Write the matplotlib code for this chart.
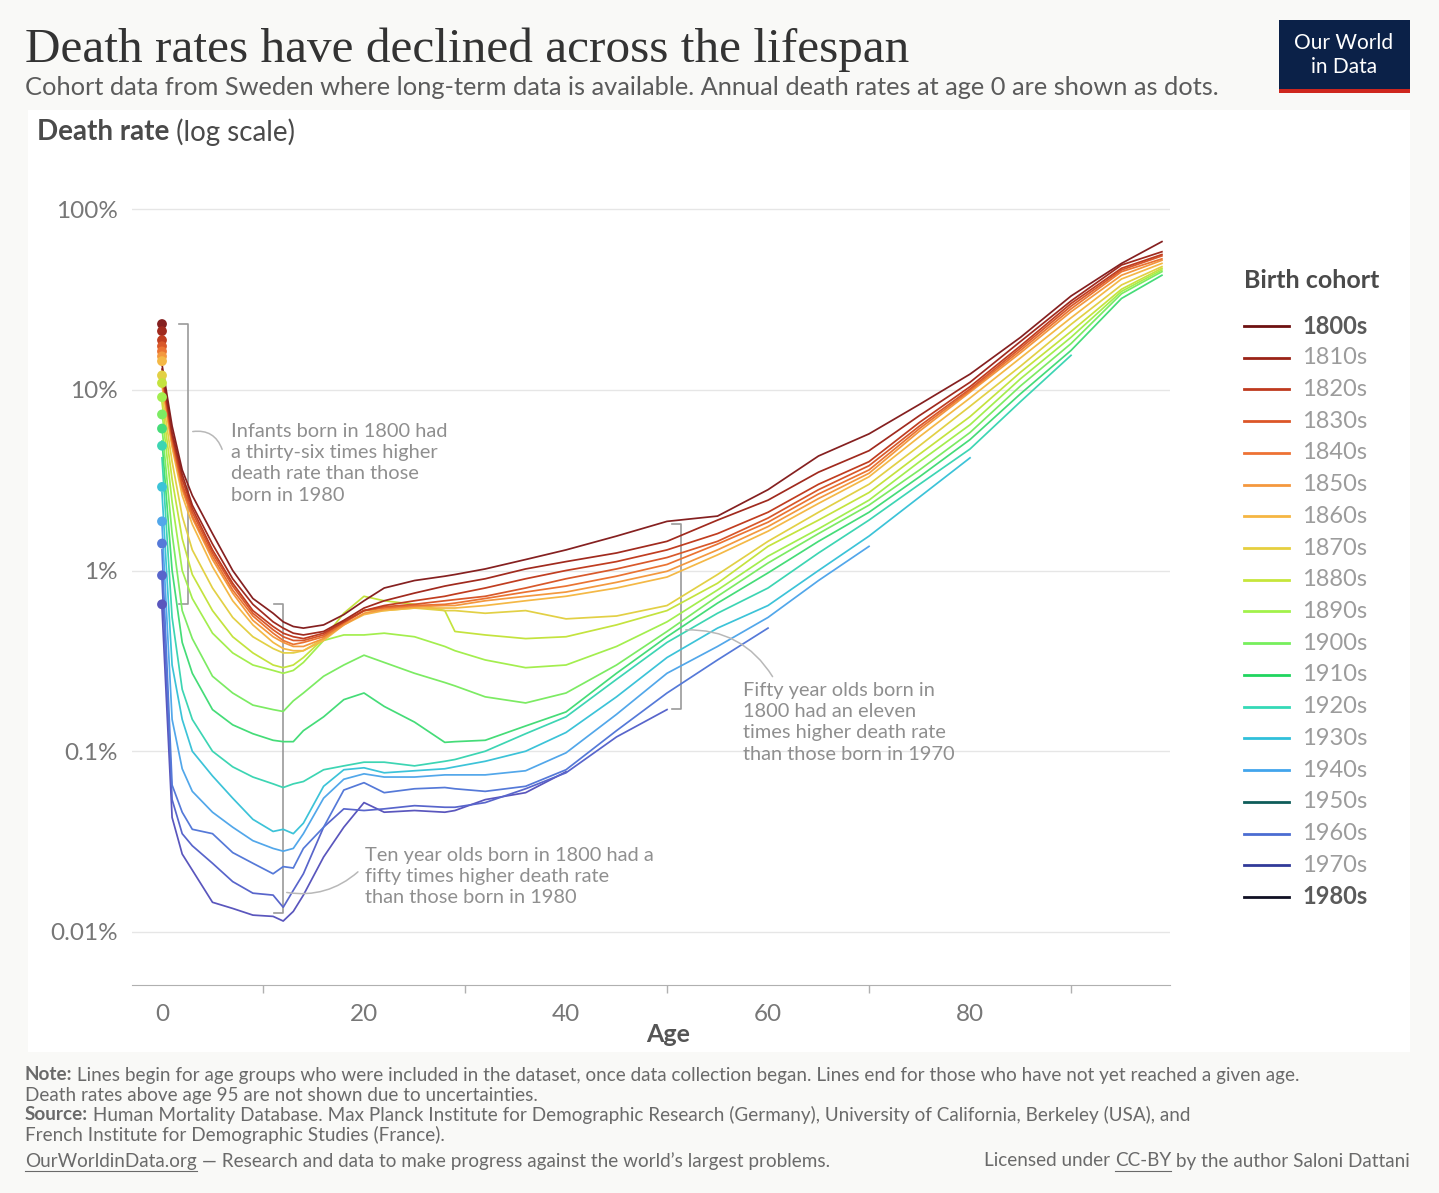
import matplotlib
matplotlib.use('Agg')
import matplotlib.pyplot as plt
from matplotlib.patches import Rectangle, FancyArrowPatch
from matplotlib.lines import Line2D
from matplotlib.ticker import NullLocator, FixedLocator

W, H = 1439, 1193
FONT = ['Lato', 'DejaVu Sans']

ages = [0, 1, 2, 3, 5, 7, 9, 11, 12, 13, 14, 16, 18, 20, 22, 25, 28, 29, 32, 36,
        40, 45, 50, 55, 60, 65, 70, 75, 80, 85, 90, 95, 99]

# cohort death rates in %, a list stops where the cohort's data stops
r1800 = [13.8, 6.3, 3.6, 2.6, 1.6, 1.0, 0.7, 0.58, 0.52, 0.49, 0.48, 0.5, 0.57, 0.68, 0.8, 0.88, 0.93, 0.95, 1.02, 1.15,
         1.3, 1.55, 1.87, 2.0, 2.8, 4.3, 5.7, 8.3, 12.2, 19.5, 33, 50, 66]
r1810 = [13.0, 5.8, 3.4, 2.3, 1.4, 0.9, 0.65, 0.52, 0.48, 0.45, 0.44, 0.46, 0.53, 0.62, 0.68, 0.75, 0.82, 0.84, 0.9, 1.02,
         1.12, 1.25, 1.45, 1.9, 2.45, 3.5, 4.6, 7.2, 11.0, 18.5, 31, 49, 58]
r1820 = [12.5, 5.6, 3.2, 2.2, 1.3, 0.85, 0.6, 0.49, 0.45, 0.43, 0.42, 0.45, 0.52, 0.6, 0.64, 0.68, 0.72, 0.74, 0.8, 0.9,
         1.0, 1.12, 1.3, 1.6, 2.1, 3.0, 4.0, 6.6, 10.4, 17.5, 30, 47, 56]
r1830 = [12.0, 5.4, 3.0, 2.1, 1.25, 0.82, 0.58, 0.47, 0.43, 0.41, 0.41, 0.44, 0.52, 0.6, 0.63, 0.65, 0.68, 0.69, 0.72, 0.8,
         0.9, 1.02, 1.18, 1.45, 1.95, 2.8, 3.8, 6.3, 10.1, 17, 29, 46, 55]
r1840 = [11.5, 5.2, 2.9, 2.0, 1.2, 0.78, 0.56, 0.45, 0.41, 0.39, 0.4, 0.43, 0.51, 0.6, 0.62, 0.64, 0.65, 0.66, 0.7, 0.76,
         0.82, 0.93, 1.08, 1.4, 1.85, 2.65, 3.6, 6.1, 9.9, 16.5, 28, 45, 53]
r1850 = [11.0, 5.0, 2.8, 1.95, 1.15, 0.75, 0.53, 0.43, 0.4, 0.38, 0.38, 0.42, 0.5, 0.58, 0.61, 0.63, 0.64, 0.64, 0.68, 0.72,
         0.76, 0.86, 0.99, 1.3, 1.75, 2.5, 3.45, 5.9, 9.7, 16, 27, 43, 52]
r1860 = [10.5, 4.8, 2.6, 1.8, 1.05, 0.68, 0.5, 0.4, 0.37, 0.36, 0.36, 0.41, 0.5, 0.57, 0.6, 0.62, 0.62, 0.62, 0.64, 0.68,
         0.72, 0.8, 0.92, 1.22, 1.65, 2.35, 3.3, 5.5, 9.0, 15, 25, 41, 50]
r1870 = [9.5, 4.0, 2.0, 1.3, 0.8, 0.55, 0.43, 0.37, 0.35, 0.35, 0.36, 0.42, 0.52, 0.6, 0.6, 0.62, 0.6, 0.6, 0.58, 0.6,
         0.54, 0.56, 0.64, 0.95, 1.45, 2.1, 3.0, 4.9, 8.1, 13.5, 23, 38, 48]
r1880 = [8.5, 3.2, 1.5, 0.95, 0.6, 0.43, 0.35, 0.3, 0.29, 0.3, 0.33, 0.42, 0.58, 0.72, 0.68, 0.65, 0.6, 0.46, 0.44, 0.42,
         0.43, 0.5, 0.6, 0.85, 1.36, 1.9, 2.7, 4.4, 7.1, 12.5, 21, 36, 47]
r1890 = [7.5, 2.4, 1.0, 0.7, 0.45, 0.35, 0.3, 0.28, 0.27, 0.28, 0.31, 0.41, 0.44, 0.44, 0.45, 0.43, 0.38, 0.36, 0.32, 0.29,
         0.3, 0.38, 0.52, 0.78, 1.2, 1.7, 2.45, 4.0, 6.4, 11.5, 19.5, 35, 46]
r1900 = [6.2, 1.6, 0.6, 0.42, 0.26, 0.21, 0.18, 0.17, 0.166, 0.19, 0.21, 0.26, 0.3, 0.34, 0.31, 0.27, 0.24, 0.23, 0.2, 0.185,
         0.21, 0.3, 0.46, 0.72, 1.1, 1.6, 2.3, 3.6, 5.8, 10.5, 18, 34, 45]
r1910 = [5.2, 1.0, 0.4, 0.27, 0.17, 0.14, 0.125, 0.115, 0.113, 0.113, 0.13, 0.155, 0.193, 0.21, 0.177, 0.145, 0.112, 0.113,
         0.115, 0.138, 0.165, 0.27, 0.43, 0.66, 0.97, 1.45, 2.1, 3.3, 5.3, 9.5, 16.5, 32, 43]
r1920 = [4.2, 0.55, 0.22, 0.15, 0.1, 0.082, 0.072, 0.066, 0.063, 0.066, 0.068, 0.079, 0.083, 0.087, 0.087, 0.083, 0.088,
         0.09, 0.1, 0.125, 0.155, 0.25, 0.4, 0.58, 0.8, 1.25, 1.9, 3.0, 4.7, 8.6, 15.5]
r1930 = [2.7, 0.3, 0.15, 0.1, 0.073, 0.055, 0.042, 0.036, 0.037, 0.035, 0.04, 0.064, 0.079, 0.081, 0.076, 0.078, 0.08,
         0.082, 0.088, 0.1, 0.127, 0.2, 0.33, 0.48, 0.64, 1.0, 1.55, 2.55, 4.2]
r1940 = [1.8, 0.15, 0.08, 0.06, 0.046, 0.038, 0.032, 0.029, 0.028, 0.029, 0.035, 0.055, 0.07, 0.075, 0.072, 0.072, 0.074,
         0.074, 0.074, 0.078, 0.098, 0.16, 0.27, 0.38, 0.55, 0.88, 1.36]
r1960 = [1.3, 0.065, 0.046, 0.037, 0.035, 0.0275, 0.024, 0.021, 0.023, 0.0226, 0.029, 0.038, 0.061, 0.067, 0.059, 0.062,
         0.063, 0.062, 0.06, 0.064, 0.079, 0.13, 0.21, 0.32, 0.48]
r1970 = [0.9, 0.054, 0.035, 0.03, 0.024, 0.019, 0.0164, 0.016, 0.0137, 0.017, 0.021, 0.038, 0.048, 0.047, 0.048, 0.05,
         0.049, 0.049, 0.052, 0.062, 0.076, 0.12, 0.17]
r1980 = [0.62, 0.043, 0.027, 0.022, 0.0146, 0.0135, 0.0124, 0.0122, 0.0115, 0.013, 0.016, 0.026, 0.038, 0.052, 0.046,
         0.047, 0.046, 0.047, 0.054, 0.059, 0.077]

cohorts = ['1800s', '1810s', '1820s', '1830s', '1840s', '1850s', '1860s', '1870s', '1880s', '1890s',
           '1900s', '1910s', '1920s', '1930s', '1940s', '1950s', '1960s', '1970s', '1980s']
rates = {'1800s': r1800, '1810s': r1810, '1820s': r1820, '1830s': r1830, '1840s': r1840,
         '1850s': r1850, '1860s': r1860, '1870s': r1870, '1880s': r1880, '1890s': r1890,
         '1900s': r1900, '1910s': r1910, '1920s': r1920, '1930s': r1930, '1940s': r1940,
         '1960s': r1960, '1970s': r1970, '1980s': r1980}

# annual death rate at age 0 (%), the dots
dot_cohorts = ['1800s', '1810s', '1820s', '1830s', '1840s', '1850s', '1860s', '1870s', '1880s',
               '1890s', '1900s', '1910s', '1920s', '1930s', '1940s', '1960s', '1970s', '1980s']
dot_rates = [23.1, 21.1, 18.8, 17.4, 16.3, 15.3, 14.4, 12.0, 10.9, 9.1, 7.3, 6.1, 4.9, 2.9, 1.87, 1.41, 0.94, 0.65]

line_colors = {'1800s': '#852020', '1810s': '#a02a1e', '1820s': '#c03d20', '1830s': '#d8582a',
               '1840s': '#ea7332', '1850s': '#f3983e', '1860s': '#f4b846', '1870s': '#e2d045',
               '1880s': '#c4e33e', '1890s': '#a3ee4e', '1900s': '#7ceb63', '1910s': '#45dc78',
               '1920s': '#3dd5b3', '1930s': '#3cc3d8', '1940s': '#52a7ea', '1950s': '#0e5d5a',
               '1960s': '#5579d8', '1970s': '#5865cb', '1980s': '#5a56bd'}
legend_colors = ['#6e1111', '#9a2316', '#bf3a1e', '#dc5628', '#ee7234', '#f4983e', '#f5b642', '#e6cf3f',
                 '#c6e63b', '#a2f24b', '#76ef5c', '#20d55f', '#34d9b7', '#30c0da', '#42a5ec', '#0e5d5a',
                 '#4b6dd2', '#313a99', '#101024']


def fx(x):
    return x / W


def fy(y):
    return 1 - y / H


fig = plt.figure(figsize=(W / 100, H / 100), dpi=100)
fig.patch.set_facecolor('#f9f9f7')
fig.patches.append(Rectangle((fx(28), fy(1052)), (1410 - 28) / W, (1052 - 110) / H,
                             transform=fig.transFigure, facecolor='white', edgecolor='none', zorder=-5))

ax = fig.add_axes([fx(132), fy(985), (1170 - 132) / W, (985 - 185) / H])
ax.set_facecolor('none')
ax.set_zorder(2)
ax.set_yscale('log')
ax.set_xlim(-2.97, 99.8)
ax.set_ylim(10 ** (-2 - 53 / 180.75), 10 ** (2 + 24 / 180.75))

for c in reversed(cohorts):
    if c not in rates:
        continue
    vals = rates[c]
    ax.plot(ages[:len(vals)], vals, color=line_colors[c], lw=1.25, zorder=3, solid_joinstyle='round')

ax.scatter([0] * len(dot_rates), dot_rates, s=50, color=[line_colors[c] for c in dot_cohorts],
           zorder=5, clip_on=False, linewidths=0)

ax.set_yticks([0.01, 0.1, 1, 10, 100])
ax.set_yticklabels(['0.01%', '0.1%', '1%', '10%', '100%'])
ax.yaxis.set_minor_locator(NullLocator())
ax.set_xticks(range(0, 100, 20))
ax.xaxis.set_minor_locator(FixedLocator(range(10, 100, 20)))
ax.tick_params(axis='y', length=0, pad=10, labelsize=17.5, labelcolor='#777777')
ax.tick_params(axis='x', which='major', length=0, pad=14, labelsize=17.5, labelcolor='#777777')
ax.tick_params(axis='x', which='minor', length=6, width=1, color='#b0b0b0')
for lab in ax.get_xticklabels() + ax.get_yticklabels():
    lab.set_family(FONT)
ax.yaxis.grid(True, color='#e6e6e6', lw=1)
ax.set_axisbelow(True)
for s in ['top', 'right', 'left']:
    ax.spines[s].set_visible(False)
ax.spines['bottom'].set_color('#b0b0b0')
ax.set_xlabel('Age', fontsize=18, color='#555555', fontweight='bold', family=FONT)
ax.xaxis.set_label_coords((668 - 132) / (1170 - 132), -(1035 - 985) / (985 - 185), transform=ax.transAxes)
ax.xaxis.label.set_va('center')

# brackets and notes
bk = dict(color='#9a9a9a', lw=1.2, clip_on=False, zorder=2)
for xa, top, bot in [(2.6, 23.1, 0.65), (12.0, 0.65, 0.0128), (51.4, 1.8, 0.172)]:
    ax.plot([xa - 0.9, xa, xa, xa - 0.9], [top, top, bot, bot], **bk)

curves = [((190, 432), (223, 452), -0.45), ((284, 892), (360, 870), 0.25), ((683, 630), (774, 679), -0.3)]
for a, b, rad in curves:
    fig.patches.append(FancyArrowPatch((fx(a[0]), fy(a[1])), (fx(b[0]), fy(b[1])), transform=fig.transFigure,
                                       arrowstyle='-', connectionstyle=f'arc3,rad={rad}',
                                       color='#b8b8b8', lw=1.1, zorder=3))

note_kw = dict(fontsize=14.4, color='#8f8f8f', family=FONT, va='top', ha='left', linespacing=1.3, zorder=4)
fig.text(fx(231), fy(423), 'Infants born in 1800 had\na thirty-six times higher\ndeath rate than those\nborn in 1980', **note_kw)
fig.text(fx(365), fy(847), 'Ten year olds born in 1800 had a\nfifty times higher death rate\nthan those born in 1980', **note_kw)
fig.text(fx(743), fy(682), 'Fifty year olds born in\n1800 had an eleven\ntimes higher death rate\nthan those born in 1970', **note_kw)

# header
fig.text(fx(25), fy(62), 'Death rates have declined across the lifespan', fontsize=35.5, color='#333333',
         family=['Liberation Serif', 'DejaVu Serif'], va='baseline', ha='left')
fig.text(fx(25), fy(95), 'Cohort data from Sweden where long-term data is available. '
         'Annual death rates at age 0 are shown as dots.', fontsize=18.3, color='#5b5b5b',
         family=FONT, va='baseline', ha='left')

fig.patches.append(Rectangle((fx(1279), fy(89)), 131 / W, 69 / H, transform=fig.transFigure,
                             facecolor='#0b2148', edgecolor='none'))
fig.patches.append(Rectangle((fx(1279), fy(93)), 131 / W, 4 / H, transform=fig.transFigure,
                             facecolor='#ce261e', edgecolor='none'))
fig.text(fx(1344), fy(55), 'Our World\nin Data', fontsize=15, color='white', family=FONT,
         ha='center', va='center', linespacing=1.2)

renderer = fig.canvas.get_renderer()


def text_run(x, y, parts, size, color, align='left'):
    objs = []
    for s, bold, under in parts:
        t = fig.text(0, fy(y), s, fontsize=size, color=color, family=FONT,
                     fontweight='bold' if bold else 'normal', va='center', ha='left')
        objs.append((t, under))
    widths = [t.get_window_extent(renderer).width for t, _ in objs]
    cur = x if align == 'left' else x - sum(widths)
    for (t, under), w in zip(objs, widths):
        t.set_x(fx(cur))
        if under:
            fig.add_artist(Line2D([fx(cur), fx(cur + w)], [fy(y + 10), fy(y + 10)],
                                  transform=fig.transFigure, color=color, lw=0.8))
        cur += w


text_run(37, 132, [('Death rate', True, False), (' (log scale)', False, False)], 20, '#4a4a4a')

# legend
fig.text(fx(1244), fy(281), 'Birth cohort', fontsize=18, color='#4a4a4a', fontweight='bold',
         family=FONT, va='center', ha='left')
for i, (c, col) in enumerate(zip(cohorts, legend_colors)):
    y = 326 + 31.72 * i
    fig.add_artist(Line2D([fx(1244), fx(1289)], [fy(y), fy(y)], transform=fig.transFigure, color=col, lw=2))
    strong = c in ('1800s', '1980s')
    fig.text(fx(1302), fy(y), c, fontsize=17, color='#5a5a5a' if strong else '#9c9c9c',
             fontweight='bold' if strong else 'normal', family=FONT, va='center', ha='left')

# footer
fc = '#6a6a6a'
fs = 13.6
text_run(25, 1075, [('Note:', True, False), (' Lines begin for age groups who were included in the dataset, once data '
                     'collection began. Lines end for those who have not yet reached a given age.', False, False)], fs, fc)
text_run(25, 1095, [('Death rates above age 95 are not shown due to uncertainties.', False, False)], fs, fc)
text_run(25, 1115, [('Source:', True, False), (' Human Mortality Database. Max Planck Institute for Demographic Research '
                     '(Germany), University of California, Berkeley (USA), and', False, False)], fs, fc)
text_run(25, 1135, [('French Institute for Demographic Studies (France).', False, False)], fs, fc)
text_run(25, 1161, [('OurWorldinData.org', False, True),
                    (' \u2014 Research and data to make progress against the world\u2019s largest problems.', False, False)],
         fs, fc)
text_run(1410, 1161, [('Licensed under ', False, False), ('CC-BY', False, True),
                      (' by the author Saloni Dattani', False, False)], fs, fc, align='right')

fig.savefig('out.png', dpi=100, facecolor=fig.get_facecolor())
